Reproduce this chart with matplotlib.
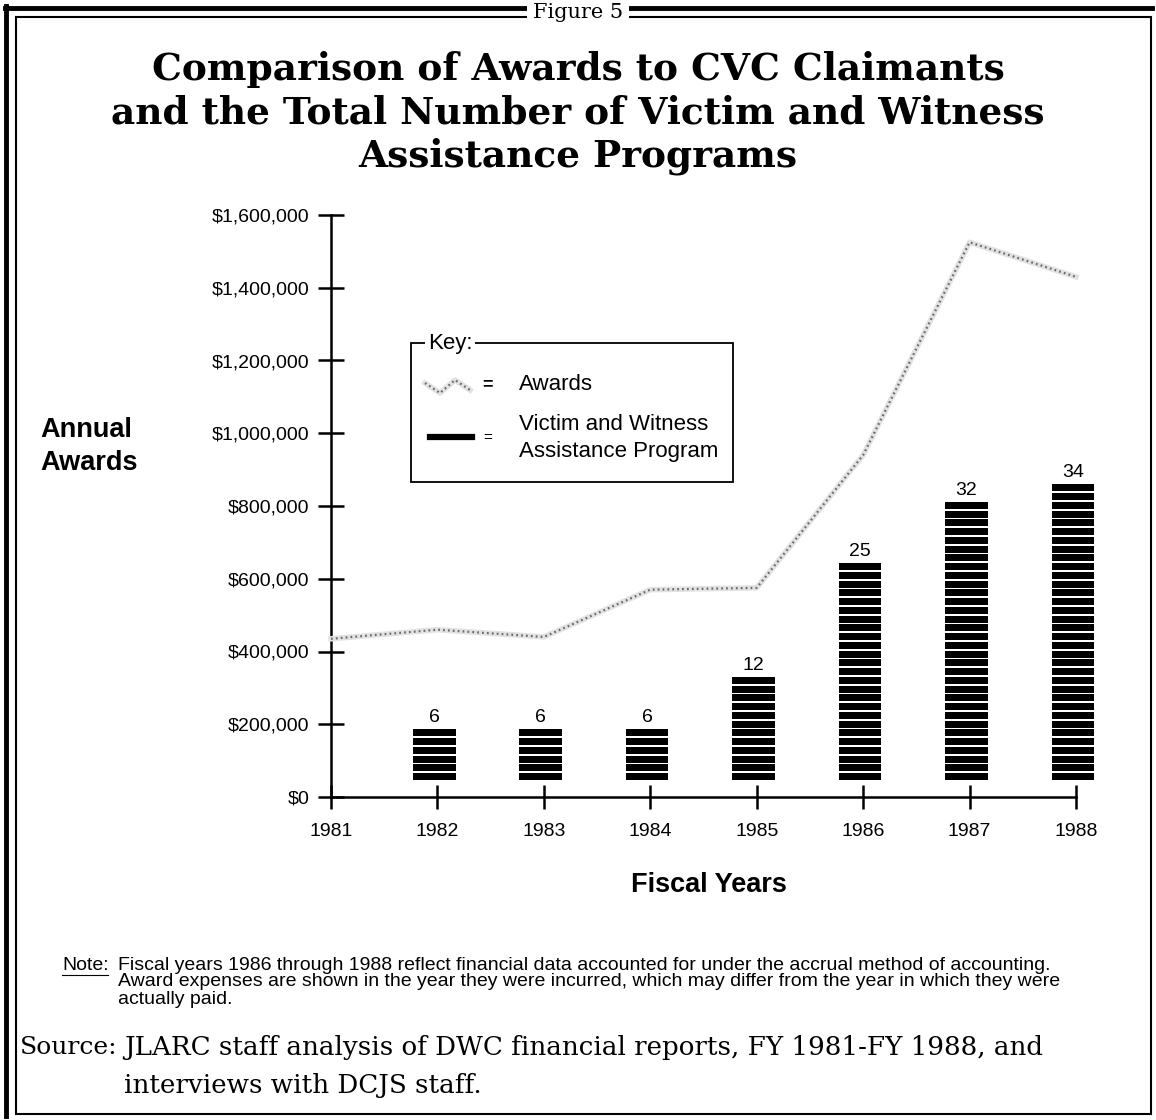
import matplotlib
matplotlib.use("Agg")
import matplotlib.pyplot as plt
import numpy as np
from matplotlib.ticker import FuncFormatter
from matplotlib.patches import Rectangle
from matplotlib.lines import Line2D

# data
years = [1981, 1982, 1983, 1984, 1985, 1986, 1987, 1988]
awards = [435000, 460000, 440000, 570000, 575000, 940000, 1525000, 1430000]
bar_years = [1982, 1983, 1984, 1985, 1986, 1987, 1988]
programs = [6, 6, 6, 12, 25, 32, 34]
yticks = [0, 200000, 400000, 600000, 800000, 1000000, 1200000, 1400000, 1600000]

W, H = 1156, 1120
fig = plt.figure(figsize=(W / 100, H / 100), dpi=100)

def px(x, y):
    # pixel position -> figure fraction
    return x / W, 1 - y / H

sans = ['Liberation Sans', 'DejaVu Sans']
serif = ['DejaVu Serif']

# --- frame ---
fig.add_artist(Line2D([5 / W, 1152 / W], [1 - 8 / H, 1 - 8 / H], color='black', lw=3.5))
fig.add_artist(Line2D([6 / W, 6 / W], [1 - 6 / H, 1 - 1116 / H], color='black', lw=3.5))
fig.add_artist(Rectangle(px(16, 1114), (1151 - 16) / W, (1114 - 17) / H, fill=False,
                         ec='black', lw=1.5))
fig.text(*px(578, 12), "Figure 5", ha='center', va='center', fontsize=15, family=serif,
         bbox=dict(fc='white', ec='none', pad=4))

# --- title ---
title = ["Comparison of Awards to CVC Claimants",
         "and the Total Number of Victim and Witness",
         "Assistance Programs"]
for i, t in enumerate(title):
    fig.text(*px(578, 70 + 43 * i), t, ha='center', va='center', fontsize=27,
             fontweight='bold', family=serif)

# --- axes ---
l, b = px(331, 797)
r, t = px(1076, 215)
ax = fig.add_axes([l, b, r - l, t - b])
ax.set_xlim(1981, 1988)
ax.set_ylim(0, 1600000)
for s in ['top', 'right']:
    ax.spines[s].set_visible(False)
ax.spines['left'].set_linewidth(1.8)
ax.spines['bottom'].set_linewidth(1.8)
ax.set_xticks(years)
ax.set_yticks(yticks)
ax.yaxis.set_major_formatter(FuncFormatter(lambda v, p: "${:,.0f}".format(v)))
ax.tick_params(axis='y', direction='inout', length=19, width=1.8, pad=6, labelsize=14)
ax.tick_params(axis='x', direction='inout', length=17, width=1.8, pad=10, labelsize=14)
for lab in ax.get_xticklabels() + ax.get_yticklabels():
    lab.set_family(sans)
ax.patch.set_alpha(0)

# awards line, halftone look
ax.plot(years, awards, color='#e2e2e2', lw=4, zorder=3, clip_on=False)
ax.plot(years, awards, color='#6a6a6a', lw=1.6, ls=(0, (0.8, 1.4)), zorder=4, clip_on=False)

# programs as stacked stripes on hidden twin axis
ax2 = ax.twinx()
ax2.set_ylim(-1.94, 64.57)
ax2.axis('off')
for yr, n in zip(bar_years, programs):
    ax2.bar([yr - 0.03] * n, 0.78, bottom=np.arange(n), width=0.4, color='black', lw=0,
            clip_on=False)
    ax2.annotate(str(n), (yr - 0.03, n), xytext=(0, 1), textcoords='offset points',
                 ha='center', va='bottom', fontsize=14, family=sans)

# axis labels
fig.text(*px(40, 430), "Annual", ha='left', va='center', fontsize=19.5,
         fontweight='bold', family=sans)
fig.text(*px(40, 463), "Awards", ha='left', va='center', fontsize=19.5,
         fontweight='bold', family=sans)
fig.text(*px(709, 885), "Fiscal Years", ha='center', va='center', fontsize=19.5,
         fontweight='bold', family=sans)

# --- key box ---
fig.add_artist(Rectangle(px(411, 482), (733 - 411) / W, (482 - 343) / H, fill=False,
                         ec='black', lw=1.3))
fig.text(*px(428, 343), "Key:", ha='left', va='center', fontsize=16, family=sans,
         bbox=dict(fc='white', ec='none', pad=2))
kx = [425 / W, 440 / W, 455 / W, 470 / W]
ky = [1 - 383 / H, 1 - 393 / H, 1 - 380 / H, 1 - 390 / H]
fig.add_artist(Line2D(kx, ky, color='#e2e2e2', lw=4))
fig.add_artist(Line2D(kx, ky, color='#6a6a6a', lw=1.6, ls=(0, (0.8, 1.4))))
fig.add_artist(Line2D([430 / W, 472 / W], [1 - 437 / H, 1 - 437 / H], color='black', lw=4.5))
fig.text(*px(488, 385), "=", ha='center', va='center', fontsize=13, fontweight='bold', family=sans)
fig.text(*px(488, 438), "=", ha='center', va='center', fontsize=11, family=sans)
fig.text(*px(519, 385), "Awards", ha='left', va='center', fontsize=16, family=sans)
fig.text(*px(519, 425), "Victim and Witness", ha='left', va='center', fontsize=16, family=sans)
fig.text(*px(519, 452), "Assistance Program", ha='left', va='center', fontsize=16, family=sans)

# --- notes ---
fig.text(*px(62, 965), "Note:", ha='left', va='center', fontsize=14, family=sans)
fig.add_artist(Line2D([62 / W, 108 / W], [1 - 975 / H, 1 - 975 / H], color='black', lw=0.8))
note = ["Fiscal years 1986 through 1988 reflect financial data accounted for under the accrual method of accounting.",
        "Award expenses are shown in the year they were incurred, which may differ from the year in which they were",
        "actually paid."]
for i, s in enumerate(note):
    fig.text(*px(118, 965 + 17 * i), s, ha='left', va='center', fontsize=14, family=sans)

fig.text(*px(20, 1048), "Source:", ha='left', va='center', fontsize=18, family=serif)
fig.text(*px(124, 1048), "JLARC staff analysis of DWC financial reports, FY 1981-FY 1988, and",
         ha='left', va='center', fontsize=18.8, family=serif)
fig.text(*px(124, 1085), "interviews with DCJS staff.", ha='left', va='center', fontsize=18.8,
         family=serif)

fig.savefig("out.png", dpi=100)
